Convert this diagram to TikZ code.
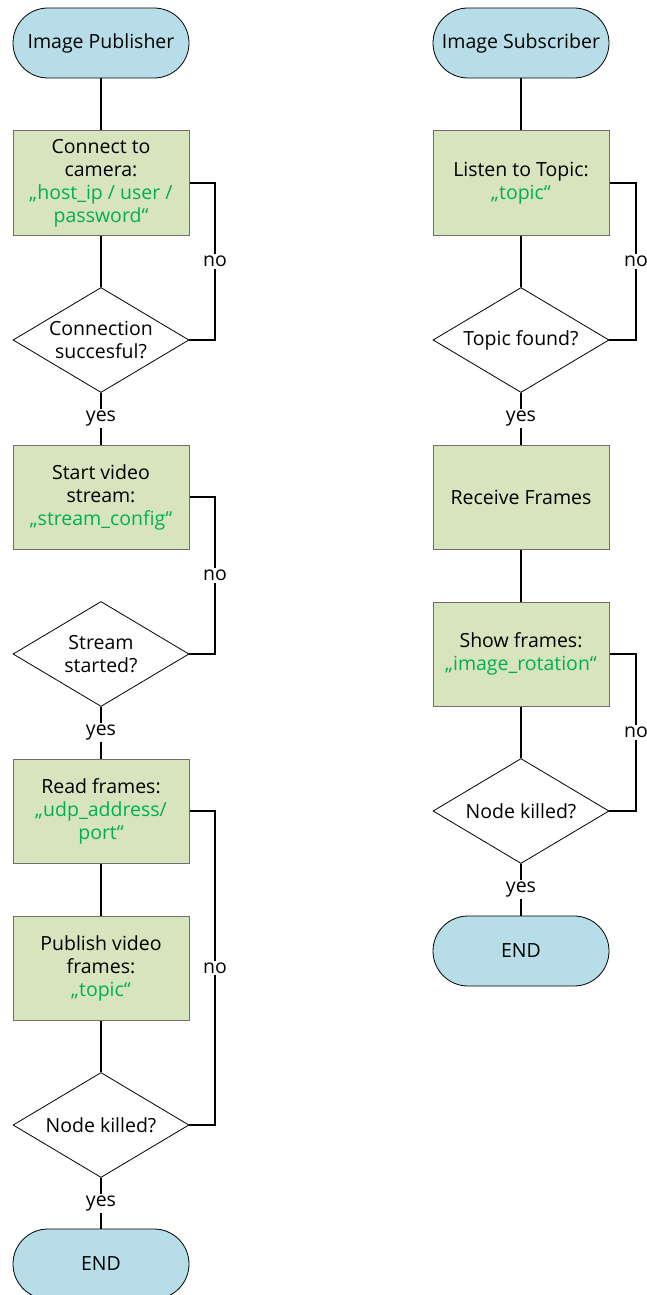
\documentclass[tikz,border=0pt]{standalone}
\usepackage{fontspec}
\setmainfont{Open Sans}
\usetikzlibrary{shapes.geometric}
\definecolor{termfill}{HTML}{B7DEE8}
\definecolor{stepfill}{HTML}{D7E4BD}
\definecolor{param}{HTML}{00B050}
\definecolor{stepline}{HTML}{6F6F6F}
\newcommand{\prm}[1]{\textcolor{param}{#1}}
\tikzset{
  every node/.style={font=\fontsize{19.5}{23}\selectfont, align=center},
  terminal/.style={draw=black, line width=0.8pt, fill=termfill, rectangle,
    rounded corners=35pt, minimum width=176pt, minimum height=70pt, inner sep=0pt},
  stepbox/.style={draw=stepline, line width=1pt, fill=stepfill, rectangle,
    minimum width=176pt, minimum height=104pt, inner sep=0pt},
  decision/.style={draw=black, line width=0.8pt, fill=white, diamond, aspect=1.68,
    minimum width=176pt, minimum height=105pt, inner sep=0pt},
  link/.style={draw=black, line width=1.6pt},
  tag/.style={fill=white, inner sep=2pt}
}
\begin{document}
\begin{tikzpicture}[x=1pt, y=-1pt]
\useasboundingbox (0,0) rectangle (646,1295);

% left flow: publisher
\node[terminal] (pstart) at (101,43) {Image Publisher};
\node[stepbox] (pconn) at (101,183) {Connect to\\camera:\\\prm{„host\_ip / user /}\\\prm{password“}};
\node[decision] (pconnok) at (101,340) {};
\node at (pconnok.center) {Connection\\succesful?};
\node[stepbox] (pstream) at (101,497) {Start video\\stream:\\\prm{„stream\_config“}};
\node[decision] (pstreamok) at (101,654) {};
\node at (pstreamok.center) {Stream\\started?};
\node[stepbox] (pread) at (101,811) {Read frames:\\\prm{„udp\_address/}\\\prm{port“}};
\node[stepbox] (ppub) at (101,968) {Publish video\\frames:\\\prm{„topic“}};
\node[decision] (pkill) at (101,1125) {};
\node at (pkill.center) {Node killed?};
\node[terminal] (pend) at (101,1264) {END};

\coordinate (lx) at (215,0);

\draw[link] (pstart) -- (pconn);
\draw[link] (pconn) -- (pconnok);
\draw[link] (pconnok) -- node[tag] {yes} (pstream);
\draw[link] (pconn.east) -- (pconn.east -| lx) -- node[tag] {no} (pconnok.east -| lx) -- (pconnok.east);
\draw[link] (pstream.east) -- (pstream.east -| lx) -- node[tag] {no} (pstreamok.east -| lx) -- (pstreamok.east);
\draw[link] (pstreamok) -- node[tag] {yes} (pread);
\draw[link] (pread) -- (ppub);
\draw[link] (ppub) -- (pkill);
\draw[link] (pread.east) -- (pread.east -| lx) -- node[tag] {no} (pkill.east -| lx) -- (pkill.east);
\draw[link] (pkill) -- node[tag] {yes} (pend);

% right flow: subscriber
\node[terminal] (sstart) at (521,43) {Image Subscriber};
\node[stepbox] (slisten) at (521,183) {Listen to Topic:\\\prm{„topic“}};
\node[decision] (sfound) at (521,340) {};
\node at (sfound.center) {Topic found?};
\node[stepbox] (srecv) at (521,497) {Receive Frames};
\node[stepbox] (sshow) at (521,654) {Show frames:\\\prm{„image\_rotation“}};
\node[decision] (skill) at (521,811) {};
\node at (skill.center) {Node killed?};
\node[terminal] (send) at (521,951) {END};

\coordinate (rx) at (636,0);

\draw[link] (sstart) -- (slisten);
\draw[link] (slisten) -- (sfound);
\draw[link] (slisten.east) -- (slisten.east -| rx) -- node[tag] {no} (sfound.east -| rx) -- (sfound.east);
\draw[link] (sfound) -- node[tag] {yes} (srecv);
\draw[link] (srecv) -- (sshow);
\draw[link] (sshow) -- (skill);
\draw[link] (sshow.east) -- (sshow.east -| rx) -- node[tag] {no} (skill.east -| rx) -- (skill.east);
\draw[link] (skill) -- node[tag] {yes} (send);
\end{tikzpicture}
\end{document}
